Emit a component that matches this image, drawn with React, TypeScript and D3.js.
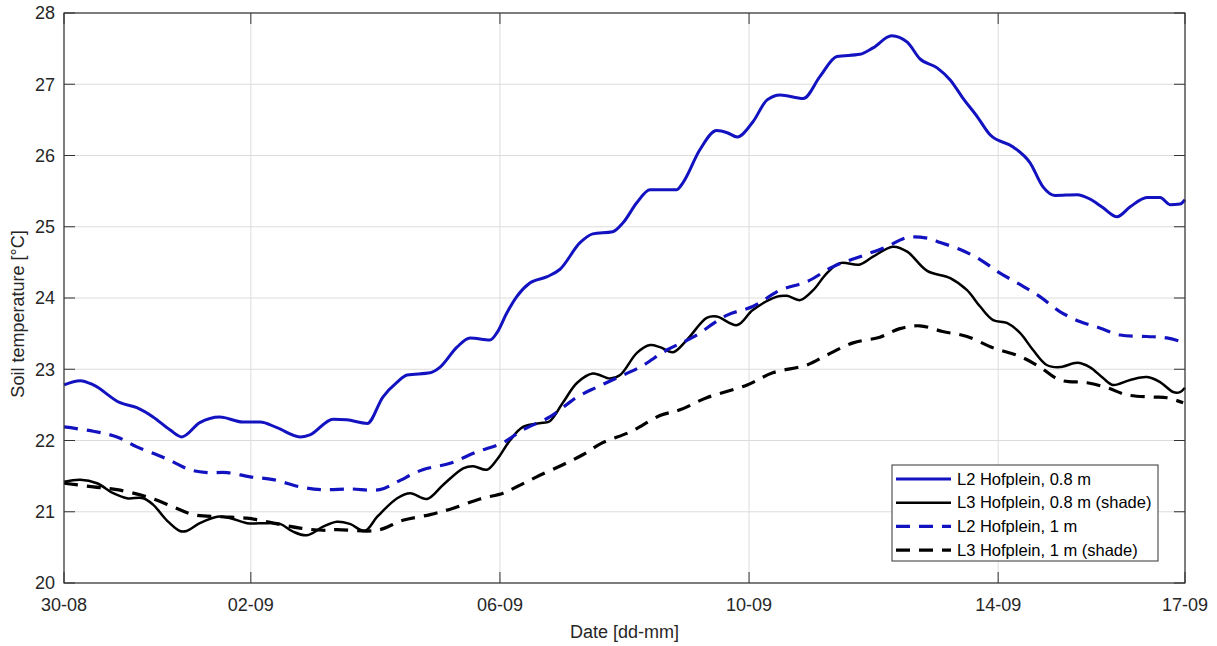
import React from "react";
import * as d3 from "d3";

// Day offsets from 30-08 00:00 and soil temperatures (°C)
const l2_08_days = [0, 0.26, 0.47, 0.9, 1.17, 1.43, 1.7, 1.89, 2.18, 2.5, 2.87, 3.15, 3.42, 3.79, 3.95, 4.32, 4.54, 4.87, 5.12, 5.35, 5.51, 5.88, 6.04, 6.31, 6.52, 6.84, 6.95, 7.11, 7.27, 7.48, 7.76, 7.96, 8.29, 8.49, 8.81, 8.98, 9.2, 9.41, 9.84, 9.94, 10.21, 10.48, 10.65, 10.81, 11.06, 11.29, 11.5, 11.87, 12.14, 12.41, 12.78, 12.99, 13.29, 13.54, 13.74, 14.02, 14.23, 14.43, 14.66, 14.87, 15.24, 15.51, 15.72, 15.91, 16.27, 16.47, 16.68, 16.91, 17.12, 17.39, 17.6, 17.76, 17.92, 18.0];
const l2_08_temp = [22.78, 22.84, 22.78, 22.53, 22.46, 22.33, 22.15, 22.05, 22.25, 22.33, 22.26, 22.26, 22.18, 22.05, 22.08, 22.3, 22.29, 22.24, 22.61, 22.82, 22.92, 22.95, 23.03, 23.31, 23.44, 23.41, 23.51, 23.79, 24.02, 24.21, 24.3, 24.4, 24.78, 24.9, 24.93, 25.06, 25.34, 25.52, 25.52, 25.62, 26.08, 26.35, 26.32, 26.26, 26.47, 26.78, 26.85, 26.8, 27.11, 27.39, 27.42, 27.51, 27.68, 27.59, 27.36, 27.23, 27.06, 26.81, 26.55, 26.29, 26.12, 25.9, 25.56, 25.44, 25.45, 25.39, 25.27, 25.14, 25.28, 25.41, 25.41, 25.31, 25.32, 25.38];

const l3_08_days = [0, 0.26, 0.53, 0.79, 1.01, 1.27, 1.43, 1.65, 1.86, 1.97, 2.18, 2.46, 2.67, 2.94, 3.26, 3.47, 3.68, 3.9, 4.16, 4.38, 4.59, 4.83, 5.03, 5.35, 5.56, 5.83, 6.09, 6.41, 6.57, 6.79, 6.95, 7.16, 7.37, 7.69, 7.8, 8.01, 8.24, 8.49, 8.77, 8.93, 9.2, 9.41, 9.57, 9.78, 10.0, 10.32, 10.48, 10.81, 11.06, 11.45, 11.61, 11.82, 12.03, 12.25, 12.46, 12.78, 12.99, 13.31, 13.54, 13.86, 14.23, 14.5, 14.71, 14.92, 15.14, 15.35, 15.56, 15.78, 15.99, 16.27, 16.47, 16.68, 16.84, 17.12, 17.39, 17.6, 17.81, 17.92, 18.0];
const l3_08_temp = [21.42, 21.45, 21.4, 21.26, 21.19, 21.19, 21.1, 20.88, 20.73, 20.73, 20.84, 20.93, 20.91, 20.84, 20.84, 20.83, 20.72, 20.67, 20.79, 20.86, 20.83, 20.73, 20.93, 21.19, 21.26, 21.18, 21.38, 21.61, 21.64, 21.59, 21.73, 22.0, 22.19, 22.25, 22.27, 22.53, 22.81, 22.94, 22.87, 22.92, 23.23, 23.34, 23.31, 23.24, 23.41, 23.72, 23.74, 23.62, 23.83, 24.02, 24.03, 23.97, 24.11, 24.35, 24.49, 24.47, 24.58, 24.72, 24.65, 24.38, 24.28, 24.11, 23.88, 23.69, 23.65, 23.51, 23.27, 23.06, 23.03, 23.09, 23.03, 22.88, 22.78, 22.85, 22.89, 22.82, 22.68, 22.68, 22.74];

const l2_1_days = [0, 0.47, 0.85, 1.17, 1.49, 1.75, 2.02, 2.3, 2.62, 2.99, 3.36, 3.79, 4.16, 4.59, 5.07, 5.35, 5.76, 6.2, 6.63, 7.05, 7.37, 7.8, 8.24, 8.56, 8.88, 9.25, 9.68, 10.1, 10.65, 11.06, 11.5, 11.93, 12.35, 12.78, 13.21, 13.54, 13.86, 14.07, 14.39, 14.71, 15.03, 15.35, 15.67, 15.99, 16.31, 16.63, 16.96, 17.39, 17.71, 18.0];
const l2_1_temp = [22.19, 22.13, 22.05, 21.91, 21.8, 21.7, 21.59, 21.55, 21.55, 21.49, 21.45, 21.35, 21.31, 21.32, 21.31, 21.42, 21.59, 21.68, 21.84, 21.97, 22.15, 22.33, 22.61, 22.75, 22.88, 23.03, 23.27, 23.45, 23.76, 23.88, 24.11, 24.23, 24.44, 24.58, 24.72, 24.85, 24.84, 24.78, 24.68, 24.54, 24.35, 24.19, 24.02, 23.81, 23.67, 23.58, 23.48, 23.46, 23.44, 23.37];

const l3_1_days = [0, 0.47, 0.85, 1.33, 1.75, 2.07, 2.5, 2.94, 3.36, 3.79, 4.16, 4.38, 5.03, 5.44, 5.88, 6.25, 6.68, 7.05, 7.27, 7.59, 8.01, 8.33, 8.65, 9.09, 9.57, 9.89, 10.32, 10.97, 11.38, 11.93, 12.25, 12.67, 13.1, 13.42, 13.74, 14.11, 14.5, 14.92, 15.35, 15.67, 15.99, 16.43, 16.75, 17.07, 17.49, 17.71, 17.97];
const l3_1_temp = [21.4, 21.35, 21.31, 21.21, 21.07, 20.96, 20.93, 20.91, 20.84, 20.77, 20.74, 20.75, 20.74, 20.88, 20.96, 21.05, 21.18, 21.26, 21.35, 21.49, 21.66, 21.8, 21.97, 22.12, 22.35, 22.43, 22.6, 22.78, 22.95, 23.06, 23.2, 23.37, 23.45, 23.57, 23.61, 23.53, 23.46, 23.3, 23.18, 23.03, 22.85, 22.81, 22.74, 22.64, 22.61, 22.6, 22.53];

const seriesNames = ["L2 Hofplein, 0.8 m", "L3 Hofplein, 0.8 m (shade)", "L2 Hofplein, 1 m", "L3 Hofplein, 1 m (shade)"];
const xTickLabels = ["30-08", "02-09", "06-09", "10-09", "14-09", "17-09"];
const yTicks = [20, 21, 22, 23, 24, 25, 26, 27, 28];

const BASE = new Date(2020, 7, 30);
const DAY = 86400000;
const toDate = (d: number) => new Date(BASE.getTime() + d * DAY);
const parseTick = d3.timeParse("%d-%m-%Y");

const W = 1217, H = 646;
const M = { left: 64, top: 13, right: 1185, bottom: 583 };
const FONT = "'Liberation Sans', Arial, Helvetica, sans-serif";
const BLUE = "#1212c0";

export default function App() {
  const x = d3.scaleTime().domain([toDate(0), toDate(18)]).range([M.left, M.right]);
  const y = d3.scaleLinear().domain([20, 28]).range([M.bottom, M.top]);
  const tickDates = xTickLabels.map((s) => {
    const [dd, mm] = s.split("-");
    return parseTick(`${dd}-${mm}-2020`) as Date;
  });
  const fmt = d3.timeFormat("%d-%m");

  const mkLine = (curve: d3.CurveFactory) =>
    d3
      .line<[number, number]>()
      .x((d) => x(toDate(d[0])))
      .y((d) => y(d[1]))
      .curve(curve);
  const lineSharp = mkLine(d3.curveMonotoneX);
  const lineSmooth = mkLine(d3.curveCatmullRom.alpha(0.5));

  const series = [
    { name: seriesNames[0], days: l2_08_days, temp: l2_08_temp, color: BLUE, width: 3, dash: "", gen: lineSharp },
    { name: seriesNames[1], days: l3_08_days, temp: l3_08_temp, color: "#000", width: 2.5, dash: "", gen: lineSmooth },
    { name: seriesNames[2], days: l2_1_days, temp: l2_1_temp, color: BLUE, width: 3.2, dash: "14 9", gen: lineSmooth },
    { name: seriesNames[3], days: l3_1_days, temp: l3_1_temp, color: "#000", width: 3.2, dash: "14 9", gen: lineSmooth },
  ];

  const tickLen = 11;
  const axisColor = "#333";
  const textColor = "#262626";
  const legend = { x: 892, y: 465, w: 266, h: 96 };

  return (
    <svg width={W} height={H} style={{ position: "absolute", left: 0, top: 0, background: "#fff" }} fontFamily={FONT}>
      <rect x={0} y={0} width={W} height={H} fill="#fff" />
      {/* grid */}
      {tickDates.map((d, i) => (
        <line key={"gx" + i} x1={x(d)} x2={x(d)} y1={M.top} y2={M.bottom} stroke="#dcdcdc" strokeWidth={1} />
      ))}
      {yTicks.map((t) => (
        <line key={"gy" + t} x1={M.left} x2={M.right} y1={y(t)} y2={y(t)} stroke="#dcdcdc" strokeWidth={1} />
      ))}
      {/* series */}
      <g>
        {series.map((s) => (
          <path
            key={s.name}
            d={s.gen(s.days.map((d, i) => [d, s.temp[i]] as [number, number])) || ""}
            fill="none"
            stroke={s.color}
            strokeWidth={s.width}
            strokeDasharray={s.dash || undefined}
            strokeLinejoin="round"
          />
        ))}
      </g>
      {/* box */}
      <rect x={M.left} y={M.top} width={M.right - M.left} height={M.bottom - M.top} fill="none" stroke={axisColor} strokeWidth={1.2} />
      {/* ticks */}
      {tickDates.map((d, i) => (
        <g key={"tx" + i}>
          <line x1={x(d)} x2={x(d)} y1={M.bottom} y2={M.bottom - tickLen} stroke={axisColor} />
          <line x1={x(d)} x2={x(d)} y1={M.top} y2={M.top + tickLen} stroke={axisColor} />
          <text x={x(d)} y={M.bottom + 28} textAnchor="middle" fontSize={18} fill={textColor}>
            {fmt(d)}
          </text>
        </g>
      ))}
      {yTicks.map((t) => (
        <g key={"ty" + t}>
          <line x1={M.left} x2={M.left + tickLen} y1={y(t)} y2={y(t)} stroke={axisColor} />
          <line x1={M.right} x2={M.right - tickLen} y1={y(t)} y2={y(t)} stroke={axisColor} />
          <text x={M.left - 9} y={y(t)} dy="0.35em" textAnchor="end" fontSize={18} fill={textColor}>
            {t}
          </text>
        </g>
      ))}
      {/* axis labels */}
      <text x={(M.left + M.right) / 2} y={638} textAnchor="middle" fontSize={18} fill={textColor}>
        Date [dd-mm]
      </text>
      <text transform={`translate(24,314) rotate(-90)`} textAnchor="middle" fontSize={18} fill={textColor}>
        Soil temperature [°C]
      </text>
      {/* legend */}
      <g>
        <rect x={legend.x} y={legend.y} width={legend.w} height={legend.h} fill="#fff" stroke={axisColor} strokeWidth={1} />
        {series.map((s, i) => {
          const ry = legend.y + 14 + i * 23.7;
          return (
            <g key={"lg" + i}>
              <line x1={legend.x + 4} x2={legend.x + 59} y1={ry} y2={ry} stroke={s.color} strokeWidth={s.width} strokeDasharray={s.dash || undefined} />
              <text x={legend.x + 65} y={ry} dy="0.35em" fontSize={16.5} fill="#000">
                {s.name}
              </text>
            </g>
          );
        })}
      </g>
    </svg>
  );
}
